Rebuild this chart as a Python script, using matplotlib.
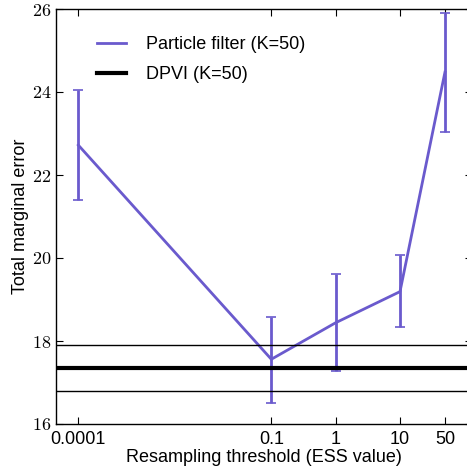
import numpy as np
import matplotlib
matplotlib.use("Agg")
from matplotlib import pyplot as plt
from matplotlib.ticker import NullLocator

plt.rcParams["mathtext.fontset"] = "cm"
plt.rcParams["font.family"] = ["Liberation Sans", "DejaVu Sans"]

thresholds = [0.0001, 0.1, 1, 10, 50]
pf_mean = [22.72, 17.56, 18.44, 19.19, 24.48]
pf_upper = [24.06, 18.59, 19.61, 20.07, 25.90]
pf_lower = [21.40, 16.50, 17.28, 18.33, 23.04]
dpvi_mean = 17.36
dpvi_upper = 17.91
dpvi_lower = 16.80
xtick_labels = ["0.0001", "0.1", "1", "10", "50"]
yticks = [16, 18, 20, 22, 24, 26]

PF = "#6a5acd"

fig = plt.figure(figsize=(4.67, 4.71), dpi=100)
ax = fig.add_axes([56 / 467, 47 / 471, (467 - 56) / 467 + 0.01, (424 - 9) / 471])

x = np.array(thresholds)
m = np.array(pf_mean)
yerr = [m - np.array(pf_lower), np.array(pf_upper) - m]
ax.plot(x, m, color=PF, lw=2, label="Particle filter (K=50)")
ax.errorbar(x, m, yerr=yerr, fmt="none", ecolor=PF, elinewidth=2,
            capsize=3.5, capthick=1.2)

ax.axhline(dpvi_mean, color="black", lw=3, label="DPVI (K=50)")
ax.axhline(dpvi_upper, color="black", lw=1)
ax.axhline(dpvi_lower, color="black", lw=1)

ax.set_xscale("log")
ax.set_xlim(4.5e-5, 130)
ax.set_ylim(16, 26)
ax.set_xticks(thresholds)
ax.set_xticklabels(xtick_labels, fontsize=13)
ax.xaxis.set_minor_locator(NullLocator())
ax.set_yticks(yticks)
ax.set_yticklabels([f"${v}$" for v in yticks], fontsize=13)
ax.tick_params(direction="in", top=True, right=True, length=5, width=0.8)
ax.tick_params(axis="x", pad=5)

ax.set_xlabel("Resampling threshold (ESS value)", fontsize=13, labelpad=1)
ax.set_ylabel("Total marginal error", fontsize=13, labelpad=2)

for s in ax.spines.values():
    s.set_linewidth(1.0)

ax.legend(loc="upper left", bbox_to_anchor=(0.06, 0.973), frameon=False,
          fontsize=13, handlelength=1.6, handletextpad=1.1, labelspacing=0.7)

fig.savefig("out.png", dpi=100)
